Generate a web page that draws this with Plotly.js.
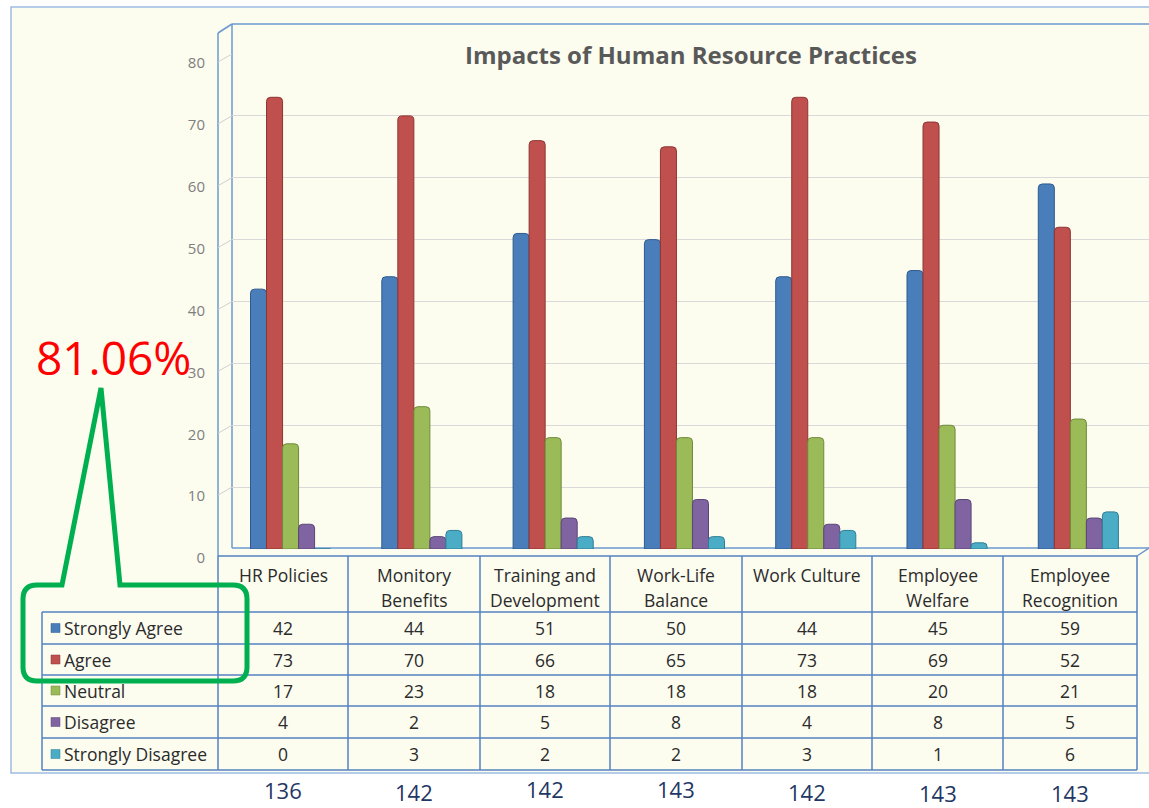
<!DOCTYPE html>
<html>
<head>
<meta charset="utf-8">
<script src="https://cdn.plot.ly/plotly-3.0.1.min.js"></script>
<style>html,body{margin:0;padding:0;background:#fff;}#chart{width:1149px;height:808px;}</style>
</head>
<body>
<div id="chart"></div>
<script>
// ---------------- DATA ----------------
const chartTitle = "Impacts of Human Resource Practices";
const categories = ["HR Policies", "Monitory Benefits", "Training and Development", "Work-Life Balance", "Work Culture", "Employee Welfare", "Employee Recognition"];
const headerLabels = [["HR Policies"], ["Monitory", "Benefits"], ["Training and", "Development"], ["Work-Life", "Balance"], ["Work Culture"], ["Employee", "Welfare"], ["Employee", "Recognition"]];
const seriesNames = ["Strongly Agree", "Agree", "Neutral", "Disagree", "Strongly Disagree"];
const stronglyAgree    = [42, 44, 51, 50, 44, 45, 59];
const agree            = [73, 70, 66, 65, 73, 69, 52];
const neutral          = [17, 23, 18, 18, 18, 20, 21];
const disagree         = [4, 2, 5, 8, 4, 8, 5];
const stronglyDisagree = [0, 3, 2, 2, 3, 1, 6];
const yTickValues = [0, 10, 20, 30, 40, 50, 60, 70, 80];
const calloutText = "81.06%";

// ---------------- STYLE / LAYOUT CONSTANTS ----------------
const W = 1149, H = 808;
const X = p => p / W;
const Y = p => 1 - p / H;
const FONT = '"Open Sans", "Noto Sans", sans-serif';
const seriesColors = ["#4A7EBB", "#C0504D", "#9BBB59", "#8064A2", "#4BACC6"];
const seriesLines  = ["#2F5A8F", "#8E3532", "#6F8A3C", "#5A4578", "#2F7F95"];
const wallColor = "#6C98D0";
const tableColor = "#5582C2";
const bg = "#FCFCEF";
const colEdges = [218, 348, 480, 610, 742, 872, 1003, 1137];
const rowEdges = [612, 644, 675, 706, 738, 770];
const totalYs = [790, 792, 789, 789, 792, 793, 793];

const seriesValues = [stronglyAgree, agree, neutral, disagree, stronglyDisagree];
const totals = categories.map((c, j) => seriesValues.reduce((s, arr) => s + arr[j], 0));

// ---------------- TRACES ----------------
const traces = seriesNames.map((name, i) => ({
  type: "bar",
  name: name,
  x: categories,
  y: seriesValues[i],
  marker: { color: seriesColors[i], line: { color: seriesLines[i], width: 1 } },
  hoverinfo: "skip"
}));

// ---------------- SHAPES ----------------
const shapes = [];
const line = (x0, y0, x1, y1, color, width, layer) => shapes.push({
  type: "line", xref: "paper", yref: "paper",
  x0: X(x0), y0: Y(y0), x1: X(x1), y1: Y(y1),
  line: { color: color, width: width }, layer: layer || "above"
});
// background frame
shapes.push({ type: "rect", xref: "paper", yref: "paper", x0: X(11), y0: Y(773), x1: X(1152), y1: Y(7),
  fillcolor: bg, line: { color: "#9DBCE3", width: 1.5 }, layer: "below" });
// 3D walls
line(232, 24, 232, 548, wallColor, 1.5, "below");
line(232, 24, 1152, 24, wallColor, 1.5, "below");
line(218, 33, 218, 556, wallColor, 1.5, "below");
line(218, 33, 232, 24, wallColor, 1.5, "below");
line(232, 548, 1149, 548, wallColor, 1.5, "below");
line(1137, 556, 1149, 548, wallColor, 1.5, "below");
// side-wall tick diagonals following the axis
yTickValues.forEach(v => shapes.push({
  type: "line", xref: "paper", yref: "y", ysizemode: "pixel", yanchor: v,
  x0: X(218), x1: X(232), y0: -8, y1: 0,
  line: { color: "#D0D0D0", width: 1 }, layer: "below"
}));
// table grid
line(218, 556, 1137, 556, tableColor, 1.5);
rowEdges.forEach(r => line(42, r, 1137, r, tableColor, 1.5));
line(42, 612, 42, 770, tableColor, 1.5);
colEdges.forEach(c => line(c, 556, c, 770, tableColor, 1.5));
// legend keys
const rowCenters = rowEdges.slice(0, -1).map((r, k) => (r + rowEdges[k + 1]) / 2);
seriesNames.forEach((n, i) => shapes.push({
  type: "rect", xref: "paper", yref: "paper",
  x0: X(51), x1: X(60), y0: Y(rowCenters[i] + 4.5), y1: Y(rowCenters[i] - 4.5),
  fillcolor: seriesColors[i], line: { color: seriesLines[i], width: 0.5 }, layer: "above"
}));
// green callout
const P = (x, y) => `${X(x)},${Y(y)}`;
shapes.push({
  type: "path", xref: "paper", yref: "paper", layer: "above",
  path: `M${P(120,585)} L${P(233,585)} Q${P(247,585)} ${P(247,599)} L${P(247,667)} Q${P(247,681)} ${P(233,681)} ` +
        `L${P(37,681)} Q${P(23,681)} ${P(23,667)} L${P(23,599)} Q${P(23,585)} ${P(37,585)} L${P(62,585)} L${P(101,388)} Z`,
  line: { color: "#00B050", width: 5 }, fillcolor: "rgba(0,0,0,0)"
});

// ---------------- ANNOTATIONS ----------------
const annotations = [];
const txt = (x, y, text, size, color, opts) => annotations.push(Object.assign({
  xref: "paper", yref: "paper", x: X(x), y: Y(y), text: text, showarrow: false,
  font: { family: FONT, size: size, color: color }, xanchor: "center", yanchor: "middle"
}, opts || {}));

// title
txt(691, 55, "<b>" + chartTitle + "</b>", 24, "#595959", { bgcolor: bg, borderpad: 3 });
// header labels
headerLabels.forEach((lines, j) => {
  const cx = (colEdges[j] + colEdges[j + 1]) / 2;
  lines.forEach((t, k) => txt(cx, 575 + 25 * k, t, 17.5, "#2B2B2B"));
});
// table values
seriesValues.forEach((arr, i) => arr.forEach((v, j) => {
  const cx = (colEdges[j] + colEdges[j + 1]) / 2;
  txt(cx, rowCenters[i], String(v), 17.5, "#2B2B2B");
}));
// legend names
seriesNames.forEach((n, i) => txt(62, rowCenters[i], n, 17.5, "#2B2B2B", { xanchor: "left" }));
// totals
totals.forEach((t, j) => {
  const cx = (colEdges[j] + colEdges[j + 1]) / 2;
  txt(cx, totalYs[j], String(t), 22, "#1F3864");
});
// callout
txt(113, 357, calloutText, 46, "#FF0000");

// ---------------- LAYOUT ----------------
const layout = {
  width: W, height: H,
  margin: { l: 0, r: 0, t: 0, b: 0, pad: 0 },
  paper_bgcolor: "#FFFFFF",
  plot_bgcolor: "rgba(0,0,0,0)",
  showlegend: false,
  barmode: "group",
  bargap: 0.39,
  bargroupgap: 0,
  barcornerradius: 4,
  xaxis: {
    type: "category", domain: [X(232), 1], range: [-0.446, 6.538],
    showticklabels: false, showgrid: false, zeroline: false, showline: false, ticks: "", fixedrange: true
  },
  yaxis: {
    domain: [Y(549), Y(54)], range: [0, 80], tickvals: yTickValues,
    showgrid: true, gridcolor: "#D9D9D9", gridwidth: 1.2, zeroline: false, showline: false, ticks: "",
    tickfont: { family: FONT, size: 15, color: "#7F7F7F" },
    ticklabelstandoff: 26, ticklabelshift: 9, fixedrange: true
  },
  shapes: shapes,
  annotations: annotations
};

Plotly.newPlot("chart", traces, layout, { displayModeBar: false, staticPlot: true });
</script>
</body>
</html>
